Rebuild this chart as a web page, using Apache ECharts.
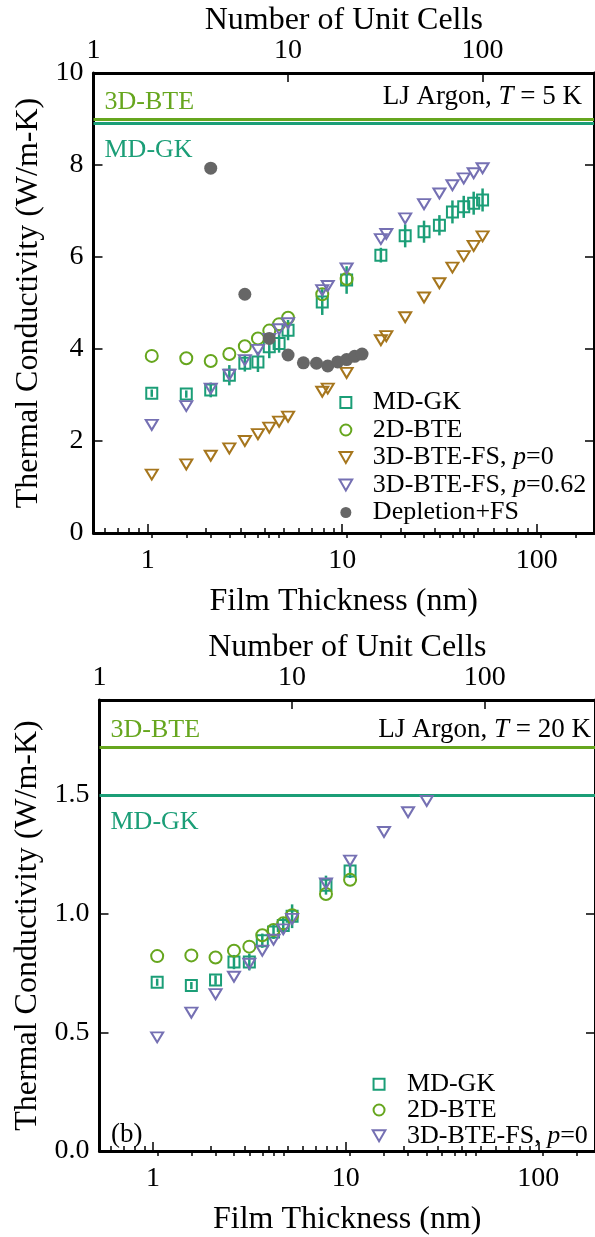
<!DOCTYPE html>
<html>
<head>
<meta charset="utf-8">
<script src="https://cdn.jsdelivr.net/npm/echarts@6/dist/echarts.min.js"></script>
<style>
  html, body { margin: 0; padding: 0; background: #fff; }
  #chart { width: 595px; height: 1237px; }
</style>
</head>
<body>
<div id="chart"></div>
<script>
// Thermal conductivity of LJ argon thin films vs. thickness (two temperatures)
const FONT = '"Liberation Serif", "Times New Roman", serif';
const C_GK = '#1b9e77', C_2D = '#66a61e', C_P0 = '#a6761d', C_P62 = '#7570b3', C_DEP = '#666666';

// Lattice constant (nm) relating film thickness to number of unit cells
const LATTICE_NM = 0.5269;
const THICK_MIN = LATTICE_NM;
const THICK_MAX = 197;

// ---- T = 5 K ----
const gk5Thick = [1.05, 1.58, 2.11, 2.63, 3.16, 3.69, 4.22, 4.74, 5.27, 7.90, 10.54, 15.81, 21.08, 26.35, 31.61, 36.88, 42.15, 47.42, 52.69];
const gk5K     = [3.04, 3.02, 3.11, 3.43, 3.69, 3.72, 4.05, 4.12, 4.41, 5.02, 5.50, 6.04, 6.46, 6.55, 6.69, 6.98, 7.09, 7.17, 7.24];
const gk5Err   = [0.08, 0.08, 0.16, 0.22, 0.18, 0.22, 0.25, 0.20, 0.22, 0.28, 0.30, 0.16, 0.25, 0.24, 0.22, 0.25, 0.24, 0.25, 0.25];

const bte2d5Thick = [1.05, 1.58, 2.11, 2.63, 3.16, 3.69, 4.22, 4.74, 5.27, 7.90, 10.54];
const bte2d5K     = [3.85, 3.80, 3.74, 3.89, 4.06, 4.23, 4.40, 4.54, 4.68, 5.19, 5.52];

const fs5Thick = [1.05, 1.58, 2.11, 2.63, 3.16, 3.69, 4.22, 4.74, 5.27, 7.90, 8.43, 10.54, 15.81, 16.86, 21.08, 26.35, 31.61, 36.88, 42.15, 47.42, 52.69];
const fsP0_5K  = [1.27, 1.49, 1.68, 1.84, 2.00, 2.15, 2.29, 2.42, 2.53, 3.07, 3.14, 3.48, 4.19, 4.28, 4.69, 5.12, 5.43, 5.77, 6.02, 6.24, 6.45];
const fsP62_5K = [2.35, 2.76, 3.14, 3.44, 3.76, 3.98, 4.22, 4.43, 4.56, 5.28, 5.37, 5.75, 6.39, 6.50, 6.84, 7.15, 7.38, 7.56, 7.71, 7.82, 7.93];

const depl5Thick = [2.11, 3.16, 4.22, 5.27, 6.32, 7.38, 8.43, 9.48, 10.54, 11.59, 12.65];
const depl5K     = [7.93, 5.19, 4.23, 3.87, 3.70, 3.69, 3.63, 3.72, 3.77, 3.84, 3.89];

const bulkNames = ['3D-BTE', 'MD-GK'];
const bulk5K    = [9.0, 8.9];

// ---- T = 20 K ----
const gk20Thick = [1.05, 1.58, 2.11, 2.63, 3.16, 3.69, 4.22, 4.74, 5.27, 7.90, 10.54];
const gk20K     = [0.711, 0.697, 0.720, 0.796, 0.796, 0.886, 0.923, 0.950, 0.989, 1.120, 1.180];
const gk20Err   = [0.015, 0.015, 0.020, 0.030, 0.035, 0.030, 0.030, 0.035, 0.050, 0.040, 0.030];
const bte2d20K  = [0.821, 0.824, 0.815, 0.844, 0.861, 0.909, 0.931, 0.959, 0.993, 1.083, 1.143];

const fs20Thick = [1.05, 1.58, 2.11, 2.63, 3.16, 3.69, 4.22, 4.74, 5.27, 7.90, 10.54, 15.81, 21.08, 26.35];
const fsP0_20K  = [0.479, 0.583, 0.661, 0.734, 0.789, 0.844, 0.890, 0.934, 0.978, 1.127, 1.223, 1.344, 1.427, 1.475];

const bulk20K = [1.70, 1.50];

// ---- tick values ----
const thickMajor = [1, 10, 100];
const thickMinor = [0.6, 0.7, 0.8, 0.9, 2, 3, 4, 5, 6, 7, 8, 9, 20, 30, 40, 50, 60, 70, 80, 90];
const cellMajor = [1, 10, 100];
const cellMinor = [2, 3, 4, 5, 6, 7, 8, 9, 20, 30, 40, 50, 60, 70, 80, 90, 200, 300];
const kTicks5 = [0, 2, 4, 6, 8, 10];
const kTicks20 = [0, 0.5, 1.0, 1.5];

const TRI_DOWN = 'path://M0,0 L10,0 L5,8.66 Z';
const SQUARE = 'path://M0,0 L10,0 L10,10 L0,10 Z';
const zip = (xs, ys) => xs.map((x, i) => [x, ys[i]]);
const zip3 = (xs, ys, es) => xs.map((x, i) => [x, ys[i], es[i]]);

const textBase = { fontFamily: FONT, color: '#000' };

function logAxis(grid, pos, min, max, ticks, opts) {
  return Object.assign({
    type: 'log', gridIndex: grid, position: pos, min: min, max: max, logBase: 10,
    axisLine: { show: false },
    splitLine: { show: false },
    axisTick: { show: true, inside: true, customValues: ticks, length: 5, lineStyle: { color: '#000', width: 1.5 } },
    axisLabel: { show: false }
  }, opts || {});
}

function majorAxis(grid, pos, min, max, ticks, name, nameGap, labelMargin) {
  return logAxis(grid, pos, min, max, ticks, {
    axisLine: { show: true, onZero: false, lineStyle: { color: '#000', width: 3 } },
    axisTick: { show: true, inside: true, customValues: ticks, length: 9, lineStyle: { color: '#000', width: 1.5 } },
    axisLabel: { show: true, customValues: ticks, margin: labelMargin, fontSize: 28, ...textBase },
    name: name, nameLocation: 'middle', nameGap: nameGap,
    nameTextStyle: { fontSize: 32, ...textBase }
  });
}

function kAxis(grid, pos, max, ticks, showLabels, name, nameGap, fmt) {
  return {
    type: 'value', gridIndex: grid, position: pos, min: 0, max: max,
    axisLine: { show: true, onZero: false, lineStyle: { color: '#000', width: 3 } },
    splitLine: { show: false },
    axisTick: { show: true, inside: true, customValues: ticks, length: 9, lineStyle: { color: '#000', width: 1.5 } },
    axisLabel: { show: showLabels, customValues: ticks, margin: 10, fontSize: 28, ...textBase, formatter: fmt },
    name: name || '', nameLocation: 'middle', nameGap: nameGap || 0, nameRotate: 90,
    nameTextStyle: { fontSize: 32, ...textBase }
  };
}

function errorBars(xi, yi, data, color) {
  return {
    type: 'custom', xAxisIndex: xi, yAxisIndex: yi, data: data, z: 3, silent: true,
    encode: { x: 0, y: 1 },
    renderItem: function (params, api) {
      const x = api.value(0), y = api.value(1), e = api.value(2);
      const lo = api.coord([x, y - e]), hi = api.coord([x, y + e]);
      return { type: 'line', shape: { x1: lo[0], y1: lo[1], x2: hi[0], y2: hi[1] },
               style: { stroke: color, lineWidth: 2.5 } };
    }
  };
}

function hollow(name, xi, yi, data, symbol, size, color, z) {
  return {
    name: name, type: 'scatter', xAxisIndex: xi, yAxisIndex: yi, data: data,
    symbol: symbol, symbolSize: size, z: z,
    itemStyle: { color: 'rgba(255,255,255,0)', borderColor: color, borderWidth: 2, opacity: 1 }
  };
}

function bulkLines(xi, yi, values) {
  const colors = [C_2D, C_GK];
  const positions = ['insideStartTop', 'insideStartBottom'];
  const dist = [[11, 4], [11, 14]];
  return {
    name: 'bulk', type: 'line', xAxisIndex: xi, yAxisIndex: yi, data: [], z: 1,
    markLine: {
      silent: true, symbol: 'none', animation: false,
      data: values.map((v, i) => ({
        yAxis: v,
        lineStyle: { color: colors[i], width: 3, type: 'solid' },
        label: { show: true, formatter: bulkNames[i], position: positions[i], distance: dist[i],
                 color: colors[i], fontSize: 26, fontFamily: FONT }
      }))
    }
  };
}

const legendRich = { i: { fontStyle: 'italic', fontSize: 26, fontFamily: FONT, color: '#000', lineHeight: 26 } };
const legendFmt = name => name.replace('p=', '{i|p}=');
function legendItem(name, icon, color, filled) {
  return { name: name, icon: icon,
    itemStyle: filled ? { color: color, borderWidth: 0 }
                      : { color: 'rgba(255,255,255,0)', borderColor: color, borderWidth: 2 } };
}

const chart = echarts.init(document.getElementById('chart'), null, { renderer: 'canvas' });

chart.setOption({
  animation: false,
  backgroundColor: '#fff',
  grid: [
    { left: 93.5, top: 73, width: 500.5, height: 460 },
    { left: 99.5, top: 700, width: 500.5, height: 459 }
  ],
  xAxis: [
    majorAxis(0, 'bottom', THICK_MIN, THICK_MAX, thickMajor, 'Film Thickness (nm)', 53, 14),
    logAxis(0, 'bottom', THICK_MIN, THICK_MAX, thickMinor),
    majorAxis(0, 'top', THICK_MIN / LATTICE_NM, THICK_MAX / LATTICE_NM, cellMajor, 'Number of Unit Cells', 36, 8),
    logAxis(0, 'top', THICK_MIN / LATTICE_NM, THICK_MAX / LATTICE_NM, cellMinor),
    majorAxis(1, 'bottom', THICK_MIN, THICK_MAX, thickMajor, 'Film Thickness (nm)', 53, 14),
    logAxis(1, 'bottom', THICK_MIN, THICK_MAX, thickMinor),
    majorAxis(1, 'top', THICK_MIN / LATTICE_NM, THICK_MAX / LATTICE_NM, cellMajor, 'Number of Unit Cells', 36, 8),
    logAxis(1, 'top', THICK_MIN / LATTICE_NM, THICK_MAX / LATTICE_NM, cellMinor)
  ],
  yAxis: [
    kAxis(0, 'left', 10, kTicks5, true, 'Thermal Conductivity (W/m-K)', 48),
    kAxis(0, 'right', 10, kTicks5, false),
    kAxis(1, 'left', 1.9, kTicks20, true, 'Thermal Conductivity (W/m-K)', 52, v => v.toFixed(1)),
    kAxis(1, 'right', 1.9, kTicks20, false)
  ],
  legend: [
    {
      orient: 'vertical', left: 333.5, top: 384.5, itemWidth: 44, itemHeight: 11, itemGap: 1.5,
      selectedMode: false, formatter: legendFmt,
      textStyle: { fontSize: 26, fontFamily: FONT, color: '#000', lineHeight: 26, rich: legendRich },
      data: [
        legendItem('MD-GK', SQUARE, C_GK),
        legendItem('2D-BTE', 'circle', C_2D),
        legendItem('3D-BTE-FS, p=0', TRI_DOWN, C_P0),
        legendItem('3D-BTE-FS, p=0.62', TRI_DOWN, C_P62),
        legendItem('Depletion+FS', 'circle', C_DEP, true)
      ]
    },
    {
      orient: 'vertical', left: 366.7, top: 1066.2, itemWidth: 46, itemHeight: 11, itemGap: -0.2,
      selectedMode: false, formatter: legendFmt,
      textStyle: { fontSize: 26, fontFamily: FONT, color: '#000', lineHeight: 26, rich: legendRich },
      data: [
        legendItem('MD-GK', SQUARE, C_GK),
        legendItem('2D-BTE', 'circle', C_2D),
        legendItem('3D-BTE-FS, p=0', TRI_DOWN, C_P62)
      ]
    }
  ],
  graphic: [
    { type: 'text', right: 13, top: 83, silent: true,
      style: { text: '{r|LJ Argon, }{i|T}{r| = 5 K}',
        rich: { r: { fontSize: 27, fontFamily: FONT, fill: '#000' },
                i: { fontSize: 27, fontFamily: FONT, fontStyle: 'italic', fill: '#000' } } } },
    { type: 'text', right: 4, top: 716.5, silent: true,
      style: { text: '{r|LJ Argon, }{i|T}{r| = 20 K}',
        rich: { r: { fontSize: 27, fontFamily: FONT, fill: '#000' },
                i: { fontSize: 27, fontFamily: FONT, fontStyle: 'italic', fill: '#000' } } } },
    { type: 'text', left: 111, top: 1121.5, silent: true,
      style: { text: '(b)', fontSize: 27, fontFamily: FONT, fill: '#000' } }
  ],
  series: [
    // T = 5 K
    bulkLines(0, 0, bulk5K),
    errorBars(0, 0, zip3(gk5Thick, gk5K, gk5Err), C_GK),
    hollow('MD-GK', 0, 0, zip(gk5Thick, gk5K), 'rect', 11, C_GK, 4),
    hollow('2D-BTE', 0, 0, zip(bte2d5Thick, bte2d5K), 'circle', 12, C_2D, 5),
    hollow('3D-BTE-FS, p=0', 0, 0, zip(fs5Thick, fsP0_5K), TRI_DOWN, [12, 10], C_P0, 6),
    hollow('3D-BTE-FS, p=0.62', 0, 0, zip(fs5Thick, fsP62_5K), TRI_DOWN, [12, 10], C_P62, 7),
    { name: 'Depletion+FS', type: 'scatter', xAxisIndex: 0, yAxisIndex: 0, z: 8,
      data: zip(depl5Thick, depl5K), symbol: 'circle', symbolSize: 13,
      itemStyle: { color: C_DEP, opacity: 1 } },
    // T = 20 K
    bulkLines(4, 2, bulk20K),
    errorBars(4, 2, zip3(gk20Thick, gk20K, gk20Err), C_GK),
    hollow('MD-GK', 4, 2, zip(gk20Thick, gk20K), 'rect', 11, C_GK, 4),
    hollow('2D-BTE', 4, 2, zip(gk20Thick, bte2d20K), 'circle', 12, C_2D, 5),
    hollow('3D-BTE-FS, p=0', 4, 2, zip(fs20Thick, fsP0_20K), TRI_DOWN, [12, 10], C_P62, 6)
  ]
});
</script>
</body>
</html>
